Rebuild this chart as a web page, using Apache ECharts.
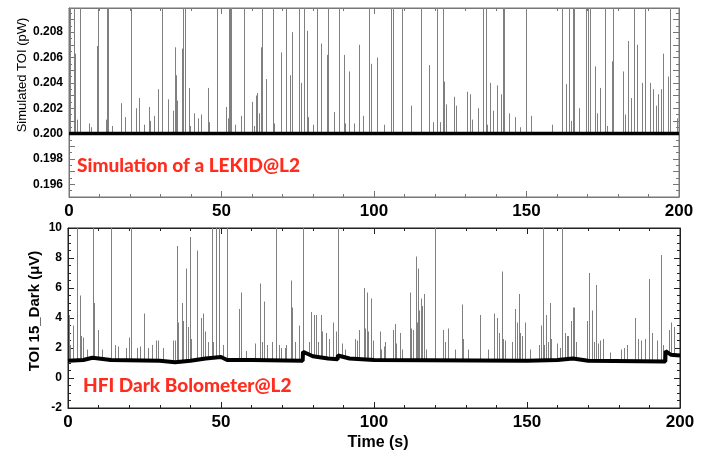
<!DOCTYPE html>
<html><head><meta charset="utf-8">
<script src="https://cdn.jsdelivr.net/npm/echarts@6/dist/echarts.min.js"></script>
<style>html,body{margin:0;padding:0;background:#fff}#c{width:726px;height:455px}</style>
</head><body><div id="c"></div>
<script>
// ---- data ----
const xTickLabels = [0, 50, 100, 150, 200];
// top panel: [time (s), peak value (pW)]; 0.211 = beyond top of scale
const topSpikes = [
[0.4,0.211],[1.5,0.211],[1.6,0.2085],[2.0,0.2063],[2.6,0.2011],[3.6,0.211],[3.7,0.2015],[6.4,0.2008],[7.3,0.2005],[9.3,0.2069],[9.6,0.211],[12.0,0.2011],[12.4,0.211],[12.9,0.211],[14.0,0.2006],[16.9,0.2024],[18.4,0.2013],[20.2,0.211],[20.3,0.2019],[22.0,0.2020],[23.1,0.2028],[24.6,0.2007],[26.2,0.2021],[26.4,0.2010],[27.9,0.2014],[29.1,0.2035],[30.4,0.211],[32.6,0.2027],[34.0,0.2018],[34.8,0.2068],[35.1,0.2046],[35.2,0.2039],[35.4,0.2026],[36.9,0.2067],[37.3,0.211],[37.9,0.211],[39.3,0.2036],[39.7,0.2006],[41.1,0.2016],[42.3,0.2012],[43.4,0.2015],[45.7,0.2036],[45.8,0.2009],[48.4,0.211],[48.6,0.2049],[51.4,0.2021],[52.0,0.2012],[52.4,0.211],[52.9,0.211],[53.2,0.211],[54.4,0.2007],[56.3,0.2014],[57.4,0.211],[59.9,0.2025],[60.6,0.2006],[61.3,0.2030],[61.5,0.2032],[62.2,0.2016],[62.8,0.2068],[63.4,0.211],[64.5,0.2043],[66.9,0.211],[67.1,0.2008],[69.6,0.2064],[71.0,0.211],[71.2,0.2043],[72.3,0.2046],[73.0,0.2080],[75.3,0.211],[76.1,0.2040],[76.9,0.211],[78.0,0.2081],[78.4,0.2013],[80.1,0.2007],[81.3,0.211],[82.6,0.2071],[84.5,0.2062],[84.8,0.211],[87.0,0.2017],[88.4,0.211],[90.0,0.2062],[90.5,0.2008],[91.8,0.2049],[93.6,0.2008],[95.2,0.2070],[96.3,0.2014],[98.3,0.211],[99.0,0.2055],[101.0,0.2060],[103.2,0.2007],[105.7,0.211],[106.2,0.211],[109.1,0.211],[112.1,0.2022],[115.5,0.211],[118.1,0.2054],[119.2,0.2009],[120.6,0.211],[121.8,0.2009],[122.5,0.211],[123.1,0.2041],[123.5,0.2023],[126.2,0.2029],[126.8,0.2022],[130.4,0.2033],[131.5,0.2031],[132.0,0.2011],[134.2,0.2020],[135.8,0.211],[136.7,0.211],[137.2,0.2007],[138.0,0.2040],[138.9,0.2018],[140.4,0.2038],[141.8,0.2031],[142.4,0.211],[142.6,0.211],[144.4,0.2016],[146.3,0.2013],[147.8,0.2005],[149.8,0.211],[151.4,0.2014],[158.2,0.2007],[161.7,0.211],[162.9,0.2039],[163.8,0.2027],[163.9,0.211],[164.5,0.2010],[165.3,0.211],[165.6,0.211],[167.2,0.2020],[169.5,0.211],[170.3,0.211],[170.8,0.211],[172.4,0.2053],[173.2,0.2016],[174.1,0.2036],[175.7,0.211],[176.3,0.2006],[178.0,0.2057],[178.2,0.211],[181.8,0.2049],[182.2,0.2015],[183.2,0.2073],[184.1,0.2028],[185.2,0.211],[186.1,0.2070],[187.8,0.2040],[188.8,0.211],[190.6,0.2040],[191.5,0.2035],[192.4,0.2022],[193.2,0.2031],[194.2,0.2035],[194.6,0.2063],[194.8,0.2013],[196.4,0.2045],[197.0,0.211],[199.5,0.2012]
];
const topBaseline = [[0,0.2000],[200,0.2000]];
// bottom panel: [time (s), peak value (µV)]; 11 = beyond top of scale
const bottomSpikes = [
[0.3,4.2],[0.8,2.2],[1.5,3.5],[2.9,11],[3.8,5.5],[4.3,2.8],[5.0,2.7],[6.1,1.9],[8.2,11],[8.4,5.0],[9.8,3.2],[11.1,1.9],[14.2,11],[15.3,2.2],[16.4,2.1],[18.9,2.0],[19.9,2.7],[20.7,11],[22.5,2.0],[23.4,2.1],[24.7,4.3],[24.9,3.7],[26.2,2.0],[27.6,2.2],[28.9,2.5],[29.4,2.5],[31.1,2.0],[34.3,2.5],[34.9,2.5],[35.7,8.8],[35.9,3.7],[37.1,5.0],[37.6,3.8],[38.4,7.3],[38.6,6.6],[39.2,3.4],[39.8,9.4],[40.1,2.6],[42.2,8.5],[43.6,4.0],[44.1,4.3],[44.7,3.1],[45.8,2.4],[46.9,11],[47.4,2.4],[48.3,11],[49.2,11],[49.5,2.4],[50.6,2.2],[52.1,11],[55.8,4.6],[56.5,5.7],[58.2,1.8],[61.0,2.3],[62.9,6.3],[63.3,2.4],[63.9,5.1],[64.2,3.8],[65.0,2.2],[66.6,2.4],[68.1,11],[68.9,2.2],[69.7,2.0],[70.8,2.0],[71.3,2.2],[73.0,6.5],[73.3,4.7],[74.1,2.4],[75.5,3.5],[76.8,11],[78.7,2.4],[79.5,4.4],[80.3,4.2],[81.1,4.2],[81.8,2.4],[82.7,4.2],[82.9,3.1],[84.3,3.0],[85.4,2.6],[86.6,3.7],[87.5,3.1],[88.2,11],[88.3,8.3],[89.4,2.3],[90.5,1.9],[93.7,2.6],[94.5,2.5],[95.1,3.2],[96.6,6.0],[96.9,3.3],[97.6,5.7],[98.1,3.1],[98.9,5.3],[99.7,2.5],[102.1,3.1],[102.4,1.9],[103.2,2.1],[103.7,2.4],[106.2,3.2],[106.9,3.6],[107.3,2.3],[108.6,3.0],[109.2,1.9],[111.9,5.7],[112.2,3.3],[112.8,3.2],[113.6,8.1],[113.9,3.7],[114.4,7.3],[114.8,4.5],[115.4,5.3],[115.7,4.8],[116.3,5.6],[116.9,1.9],[119.8,11],[122.6,3.2],[123.2,2.4],[124.3,3.3],[126.5,1.9],[128.9,4.9],[129.2,2.6],[130.8,1.9],[134.5,4.2],[134.8,2.3],[137.3,1.9],[139.1,4.3],[140.2,4.0],[140.8,3.0],[141.7,7.1],[142.2,2.6],[142.7,2.5],[145.0,2.4],[146.1,4.6],[146.6,3.7],[147.4,5.6],[147.8,3.0],[148.5,2.8],[149.4,3.7],[151.1,1.9],[153.9,2.2],[154.5,3.5],[155.2,11],[155.7,2.2],[156.3,4.2],[156.8,2.4],[157.5,5.0],[157.9,2.6],[159.9,2.3],[160.7,2.0],[161.4,11],[162.3,3.0],[163.0,2.8],[163.4,2.8],[164.5,3.8],[165.0,4.7],[165.5,4.7],[166.1,2.4],[169.6,3.8],[170.3,7.0],[171.1,4.5],[172.0,2.4],[172.7,6.2],[173.2,2.3],[174.0,2.5],[174.8,2.6],[177.0,1.7],[180.8,1.9],[181.6,2.0],[182.7,2.2],[185.2,4.0],[186.3,2.6],[187.4,2.5],[188.5,2.6],[189.8,6.6],[190.8,3.0],[192.5,2.5],[193.7,8.2],[194.6,2.2],[196.4,3.2],[196.9,3.7],[198.0,3.4]
];
const bottomBaseline = [[0,1.15],[5,1.2],[8,1.35],[10,1.3],[14,1.2],[30,1.15],[35,1.05],[40,1.15],[45,1.3],[50,1.4],[52,1.2],[60,1.2],[76.7,1.15],[76.8,1.75],[80,1.45],[85,1.3],[88.1,1.25],[88.2,1.5],[92,1.3],[100,1.2],[150,1.15],[160,1.2],[165,1.3],[170,1.15],[195.2,1.1],[195.3,1.8],[197,1.55],[200,1.5]];

// ---- helpers ----
function baseAt(bl, t){
  for (let i=1;i<bl.length;i++){ if (t<=bl[i][0]){ const a=bl[i-1], b=bl[i]; return a[1]+(b[1]-a[1])*(t-a[0])/(b[0]-a[0]); } }
  return bl[bl.length-1][1];
}
const TOPMAX = 0.2099, BOTMAX = 10;
const topData = topSpikes.map(s => [s[0], Math.min(s[1], TOPMAX), baseAt(topBaseline, s[0])]);
const botData = bottomSpikes.map(s => [s[0], Math.min(s[1], BOTMAX), baseAt(bottomBaseline, s[0])]);

const FONT = 'Liberation Sans, Arial, Helvetica, sans-serif';
function spikeRender(params, api){
  const t = api.value(0), p = api.value(1), f = api.value(2);
  const a = api.coord([t, f]), b = api.coord([t, p]);
  const x = Math.round(a[0]) + 0.5;
  return {type:'line', shape:{x1:x, y1:a[1], x2:x, y2:b[1]}, style:{stroke:'#808080', lineWidth:1}};
}
function xAx(gi, pos, labels, color){
  return {type:'value', gridIndex:gi, position:pos, min:0, max:200, interval:50,
    axisLine:{show:true, onZero:false, lineStyle:{color:color}},
    axisTick:{show:true, inside:true, length:6, lineStyle:{color:color}},
    minorTick:{show:true, splitNumber:5, length:3, lineStyle:{color:color}},
    splitLine:{show:false},
    axisLabel:{show:labels, fontFamily:FONT, fontWeight:'bold', fontSize:17, color:'#000', margin:6}};
}
function yAx(gi, pos, min, max, interval, minorSplit, labels, color, fmt){
  const ax = {type:'value', gridIndex:gi, position:pos, min:min, max:max, interval:interval,
    axisLine:{show:true, onZero:false, lineStyle:{color:color}},
    axisTick:{show:true, inside:true, length:6, lineStyle:{color:color}},
    minorTick:{show:true, splitNumber:minorSplit, length:3, lineStyle:{color:color}},
    splitLine:{show:false},
    axisLabel:{show:labels, fontFamily:FONT, fontWeight:'bold', fontSize:12, color:'#000', margin:6}};
  if (fmt) ax.axisLabel.formatter = fmt;
  return ax;
}
const topFmt = v => { const k=v*1000; const r=Math.round(k); return (Math.abs(k-r)<1e-6 && r%2===0) ? (r/1000).toFixed(3) : ''; };

const option = {
  animation:false,
  grid:[
    {left:69, top:8, right:47, height:189, show:true, borderColor:'#777', borderWidth:1},
    {left:68, top:228, right:46, height:180, show:true, borderColor:'#222', borderWidth:1}
  ],
  xAxis:[ xAx(0,'bottom',true,'#777'), xAx(0,'top',false,'#777'), xAx(1,'bottom',true,'#222'), xAx(1,'top',false,'#222') ],
  yAxis:[
    yAx(0,'left',0.195,TOPMAX,0.001,2,true,'#777',topFmt),
    yAx(0,'right',0.195,TOPMAX,0.001,2,false,'#777'),
    yAx(1,'left',-2,BOTMAX,2,4,true,'#222'),
    yAx(1,'right',-2,BOTMAX,2,4,false,'#222')
  ],
  series:[
    {type:'custom', xAxisIndex:0, yAxisIndex:0, data:topData, renderItem:spikeRender, clip:true, encode:{x:0,y:1}, silent:true},
    {type:'line', xAxisIndex:0, yAxisIndex:0, data:topBaseline, showSymbol:false, lineStyle:{color:'#000', width:3.5}, z:5, silent:true},
    {type:'custom', xAxisIndex:2, yAxisIndex:2, data:botData, renderItem:spikeRender, clip:true, encode:{x:0,y:1}, silent:true},
    {type:'line', xAxisIndex:2, yAxisIndex:2, data:bottomBaseline, showSymbol:false, lineStyle:{color:'#000', width:4}, z:5, silent:true}
  ],
  graphic:[
    {type:'text', x:22, y:75, rotation:Math.PI/2, style:{text:'Simulated TOI (pW)', font:'13px '+FONT, fill:'#000', textAlign:'center', textVerticalAlign:'middle'}},
    {type:'text', x:35, y:311, rotation:Math.PI/2, style:{text:'TOI 15_Dark (μV)', font:'bold 15px '+FONT, fill:'#000', textAlign:'center', textVerticalAlign:'middle'}},
    {type:'text', x:378, y:443, style:{text:'Time (s)', font:'bold 16px '+FONT, fill:'#000', textAlign:'center', textVerticalAlign:'middle'}},
    {type:'text', x:77, y:166, z:10, style:{text:'Simulation of a LEKID@L2', font:'900 19px Lato, sans-serif', fill:'#ff2d1f', textAlign:'left', textVerticalAlign:'middle'}},
    {type:'text', x:83, y:386, z:10, style:{text:'HFI Dark Bolometer@L2', font:'900 19px Lato, sans-serif', fill:'#ff2d1f', textAlign:'left', textVerticalAlign:'middle'}}
  ]
};
const chart = echarts.init(document.getElementById('c'), null, {renderer:'canvas'});
chart.setOption(option);
</script>
</body></html>
